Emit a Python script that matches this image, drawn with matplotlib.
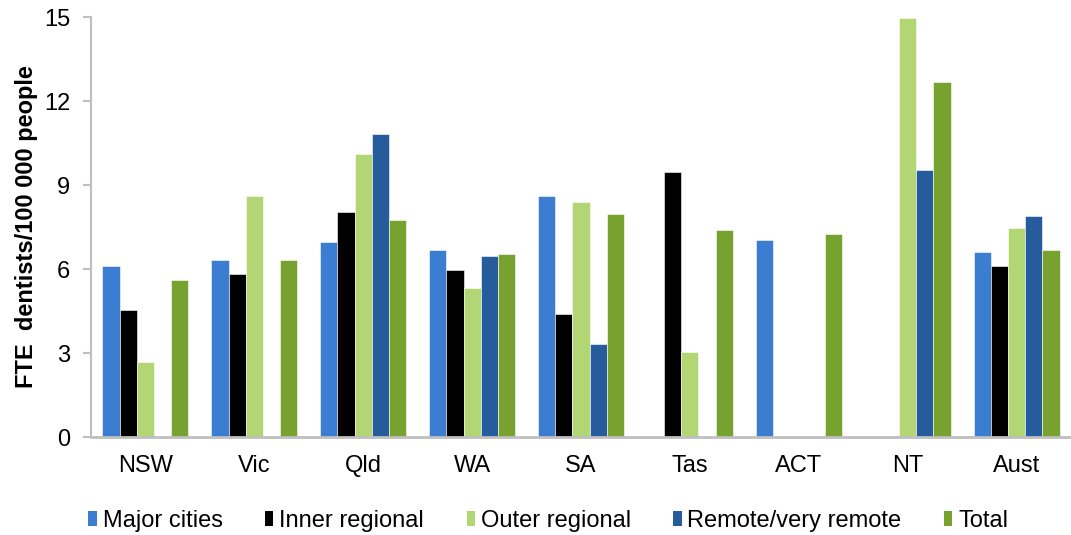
import numpy as np
import matplotlib.pyplot as plt
from matplotlib.patches import Patch

plt.rcParams['font.family'] = ['Liberation Sans', 'DejaVu Sans']

# === Data === #
states = ['NSW', 'Vic', 'Qld', 'WA', 'SA', 'Tas', 'ACT', 'NT', 'Aust']
series = ['Major cities', 'Inner regional', 'Outer regional',
          'Remote/very remote', 'Total']
nan = np.nan
major_cities = [6.10, 6.31, 6.95, 6.68, 8.60, nan, 7.02, nan, 6.60]
inner_regional = [4.52, 5.81, 8.04, 5.95, 4.38, 9.45, nan, nan, 6.10]
outer_regional = [2.67, 8.60, 10.11, 5.31, 8.38, 3.03, nan, 14.96, 7.45]
remote = [nan, nan, 10.82, 6.45, 3.31, nan, nan, 9.52, 7.88]
total = [5.60, 6.31, 7.74, 6.52, 7.95, 7.38, 7.24, 12.68, 6.67]
colors = ['#3A7DD1', '#000000', '#B3D675', '#265B9C', '#78A22F']
yticks = [0, 3, 6, 9, 12, 15]

values = [major_cities, inner_regional, outer_regional, remote, total]

fig = plt.figure(figsize=(10.71, 5.35), dpi=100)
ax = fig.add_axes([91 / 1071, 1 - 437 / 535, 1 - 91 / 1071, (437 - 17) / 535])

x = np.arange(len(states))
width = 0.158
for i, (vals, c) in enumerate(zip(values, colors)):
    ax.bar(x + (i - 2) * width, vals, width, color=c,
           edgecolor='white', linewidth=0.4)

ax.set_xlim(-0.5, len(states) - 0.5)
ax.set_ylim(0, 15)
ax.set_yticks(yticks)
ax.set_xticks(x)
ax.set_xticklabels(states)

grey = '#BFBFBF'
for side in ['top', 'right']:
    ax.spines[side].set_visible(False)
ax.spines['left'].set_color(grey)
ax.spines['left'].set_linewidth(1.5)
ax.spines['bottom'].set_color(grey)
ax.spines['bottom'].set_linewidth(2)
ax.tick_params(axis='y', length=6, width=1.5, color=grey, pad=9,
               labelsize=17)
ax.tick_params(axis='x', length=0, pad=13, labelsize=17)

ax.set_ylabel('FTE  dentists/100 000 people', fontsize=17,
              fontweight='bold', labelpad=4)

handles = [Patch(facecolor=c, edgecolor='none') for c in colors]
fig.legend(handles, series, loc='center', ncol=5,
           bbox_to_anchor=(0.512, 0.026), frameon=False, fontsize=17,
           handlelength=0.35, handleheight=0.6, handletextpad=0.25,
           columnspacing=1.8, borderaxespad=0)

fig.savefig('out.png', dpi=100)
